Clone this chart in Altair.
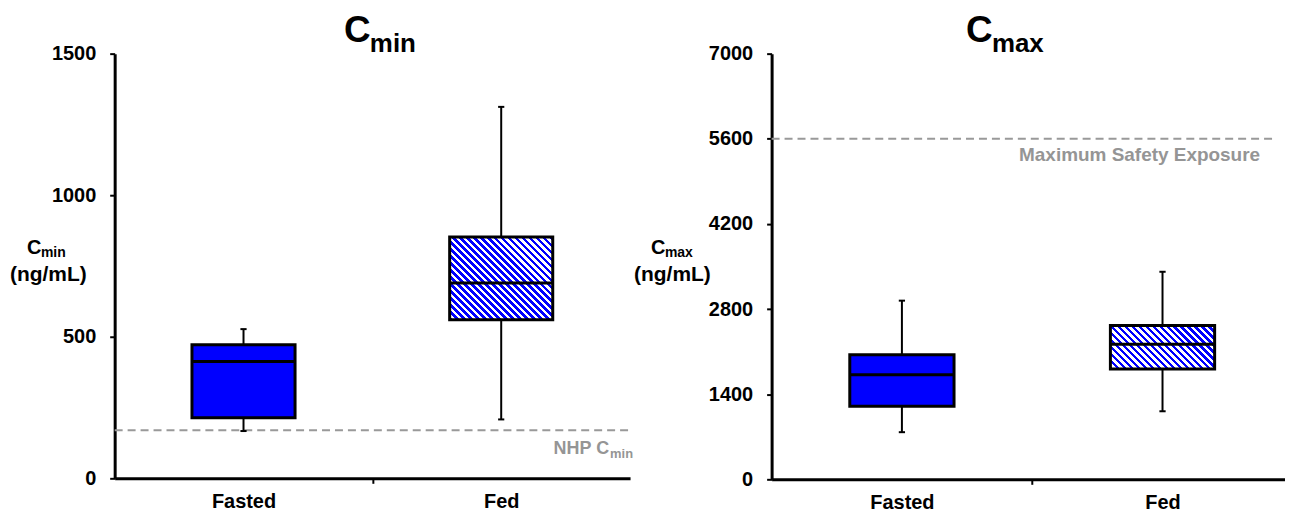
import altair as alt
import pandas as pd

# ---------------- data ----------------
categories = ["Fasted", "Fed"]
positions = [1, 2]

cmin_low = [167, 208]
cmin_q1 = [214, 560]
cmin_median = [413, 690]
cmin_q3 = [472, 852]
cmin_high = [527, 1312]

cmax_low = [775, 1119]
cmax_q1 = [1201, 1813]
cmax_median = [1720, 2222]
cmax_q3 = [2048, 2528]
cmax_high = [2938, 3413]

cmin_ticks = [0, 500, 1000, 1500]
cmax_ticks = [0, 1400, 2800, 4200, 5600, 7000]

nhp_cmin = 170
max_safety = 5600

FONT = "Liberation Sans"
BLUE = "#0000FF"
GRAY = "#999999"
TEXTGRAY = "#959595"


def hatch(w, h, period=7.0, frac=0.5):
    """45-degree blue/white stripe fill for a box of w x h pixels."""
    r = h / w
    s = (1 + r) / (1 + r * r)
    pt = period / (w + h)
    stops = []
    t = 0.0
    while t < 1.0:
        b = min(t + pt * frac, 1.0)
        c = min(t + pt, 1.0)
        stops += [
            alt.GradientStop(offset=round(t, 5), color=BLUE),
            alt.GradientStop(offset=round(b, 5), color=BLUE),
            alt.GradientStop(offset=round(b, 5), color="white"),
            alt.GradientStop(offset=round(c, 5), color="white"),
        ]
        t += pt
    return alt.LinearGradient(gradient="linear", stops=stops,
                              x1=0, y1=1, x2=s, y2=1 - r * s)


def label(text, x, y, size, color="black", align="left"):
    return alt.Chart(pd.DataFrame({"t": [text]})).mark_text(
        font=FONT, fontWeight="bold", fontSize=size, color=color,
        align=align, baseline="alphabetic"
    ).encode(text="t:N", x=alt.value(x), y=alt.value(y))


def panel(low, q1, med, q3, high, ymax, yticks, width, height, xmax,
          ref, title_sub, title_x, ytitle_x, ref_text, ref_text_x, ref_text_y,
          ref_x2, ref_sub):
    df = pd.DataFrame({"cat": categories, "pos": positions, "low": low,
                       "q1": q1, "med": med, "q3": q3, "high": high})
    base = alt.Chart(df).transform_calculate(
        left="datum.pos - 0.2", right="datum.pos + 0.2",
        cl="datum.pos - 0.012", cr="datum.pos + 0.012")

    xs = alt.Scale(domain=[0.5, xmax], nice=False, zero=False)
    ys = alt.Scale(domain=[0, ymax], nice=False, zero=True)
    xaxis = alt.Axis(
        values=[1, 1.5, 2],
        labelExpr="datum.value == 1 ? 'Fasted' : (datum.value == 2 ? 'Fed' : '')",
        labelFont=FONT, labelFontWeight="bold", labelFontSize=20,
        labelColor="black", labelPadding=8, labelAngle=0,
        tickColor={"condition": {"test": "datum.value == 1.5", "value": "black"},
                   "value": "transparent"},
        tickSize=5, tickWidth=2, domainColor="black", domainWidth=3,
        grid=False, title=None, labelFlush=False)
    yaxis = alt.Axis(
        values=yticks, format="d", labelFont=FONT, labelFontWeight="bold",
        labelFontSize=20, labelColor="black", labelPadding=14,
        tickColor="black", tickSize=5, tickWidth=2, domainColor="black",
        domainWidth=3, grid=False, title=None)

    X = lambda f: alt.X(f, type="quantitative", scale=xs, axis=xaxis, title=None)
    Y = lambda f: alt.Y(f, type="quantitative", scale=ys, axis=yaxis, title=None)

    whisk = base.mark_rule(color="black", strokeWidth=2).encode(
        x=X("pos"), y=Y("low"), y2="high:Q")
    cap_lo = base.mark_rule(color="black", strokeWidth=2).encode(
        x=X("cl"), x2="cr:Q", y=Y("low"))
    cap_hi = base.mark_rule(color="black", strokeWidth=2).encode(
        x=X("cl"), x2="cr:Q", y=Y("high"))

    box_w = 0.4 * width / (xmax - 0.5)
    box_h = (q3[1] - q1[1]) / ymax * height
    box_fasted = base.transform_filter("datum.cat == 'Fasted'").mark_rect(
        fill=BLUE, stroke="black", strokeWidth=3).encode(
        x=X("left"), x2="right:Q", y=Y("q1"), y2="q3:Q")
    box_fed = base.transform_filter("datum.cat == 'Fed'").mark_rect(
        fill=hatch(box_w, box_h), stroke="black", strokeWidth=3).encode(
        x=X("left"), x2="right:Q", y=Y("q1"), y2="q3:Q")
    median = base.mark_rule(color="black", strokeWidth=3).encode(
        x=X("left"), x2="right:Q", y=Y("med"))

    refline = alt.Chart(pd.DataFrame({"v": [ref]})).mark_rule(
        color=GRAY, strokeWidth=2, strokeDash=[8, 5]).encode(
        y=Y("v"), x=alt.value(0), x2=alt.value(ref_x2))

    layers = [refline, whisk, cap_lo, cap_hi, box_fasted, box_fed, median]
    # title with subscript
    layers += [label("C", title_x, -12, 37),
               label(title_sub, title_x + 26, -2, 26)]
    # y-axis title
    layers += [label("C", ytitle_x + 17, 201, 20),
               label(title_sub, ytitle_x + 31, 204, 14),
               label("(ng/mL)", ytitle_x, 228, 21)]
    # reference annotation
    if ref_sub:
        layers += [label(ref_text, ref_text_x - 21, ref_text_y, 18,
                         TEXTGRAY, "right"),
                   label(ref_sub, ref_text_x - 20, ref_text_y + 4, 13,
                         TEXTGRAY, "left")]
    else:
        layers += [label(ref_text, ref_text_x, ref_text_y, 19, TEXTGRAY,
                         "right")]
    return alt.layer(*layers).properties(width=width, height=height)


left = panel(cmin_low, cmin_q1, cmin_median, cmin_q3, cmin_high, 1500,
             cmin_ticks, 517, 426, 2.5, nhp_cmin, "min", 230, -105,
             "NHP C", 517, 402, 517, "min")
right = panel(cmax_low, cmax_q1, cmax_median, cmax_q3, cmax_high, 7000,
              cmax_ticks, 515, 427, 2.47, max_safety, "max", 195, -138,
              "Maximum Safety Exposure", 490, 108, 503, "")

chart = alt.hconcat(left, right, spacing=0).properties(
    padding={"left": 2, "top": 3, "right": 0, "bottom": 0},
    background="white"
).configure_view(strokeWidth=0, stroke="transparent")

chart.save("out.html", embed_options={"renderer": "svg", "actions": False})
